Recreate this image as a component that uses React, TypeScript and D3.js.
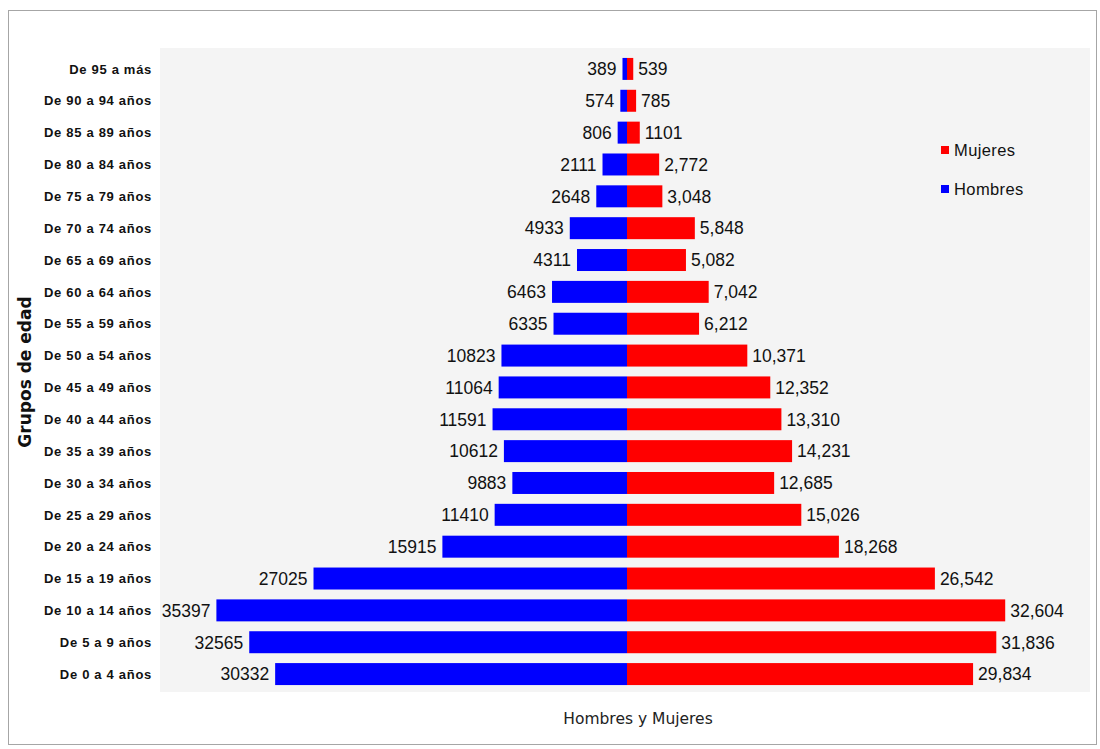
import React from "react";
import * as d3 from "d3";

const categories = [
  "De 95 a más", "De 90 a 94 años", "De 85 a 89 años", "De 80 a 84 años",
  "De 75 a 79 años", "De 70 a 74 años", "De 65 a 69 años", "De 60 a 64 años",
  "De 55 a 59 años", "De 50 a 54 años", "De 45 a 49 años", "De 40 a 44 años",
  "De 35 a 39 años", "De 30 a 34 años", "De 25 a  29 años", "De 20 a 24 años",
  "De 15 a 19 años", "De 10 a 14 años", "De 5 a 9 años", "De 0 a 4 años",
];

const hombres = [389, 574, 806, 2111, 2648, 4933, 4311, 6463, 6335, 10823, 11064, 11591, 10612, 9883, 11410, 15915, 27025, 35397, 32565, 30332];
const mujeres = [539, 785, 1101, 2772, 3048, 5848, 5082, 7042, 6212, 10371, 12352, 13310, 14231, 12685, 15026, 18268, 26542, 32604, 31836, 29834];
const mujeresLabels = ["539", "785", "1101", "2,772", "3,048", "5,848", "5,082", "7,042", "6,212", "10,371", "12,352", "13,310", "14,231", "12,685", "15,026", "18,268", "26,542", "32,604", "31,836", "29,834"];

const legendItems = [
  { name: "Mujeres", color: "#ff0000" },
  { name: "Hombres", color: "#0000ff" },
];

const W = 1100;
const H = 749;

export default function App() {
  const x = d3.scaleLinear().domain([-40000, 40000]).range([163, 1091]);
  const y = d3.scaleBand<string>().domain(categories).range([53, 690]).paddingInner(0.31).paddingOuter(0.155);
  const bw = y.bandwidth();
  const cx = x(0);
  const numFont = "'Liberation Sans', Arial, sans-serif";

  return (
    <svg width={W} height={H} style={{ position: "absolute", left: 0, top: 0, background: "#fff" }}>
      <rect x={8.5} y={10.5} width={1088} height={734} fill="#ffffff" stroke="#a6a6a6" strokeWidth={1} />
      <rect x={160} y={48} width={930} height={644} fill="#f4f4f4" />
      {categories.map((c, i) => {
        const yc = (y(c) as number) + bw / 2;
        const xl = x(-hombres[i]);
        const xr = x(mujeres[i]);
        return (
          <g key={c}>
            <rect x={xl} y={y(c)} width={cx - xl} height={bw} fill="#0000ff" />
            <rect x={cx} y={y(c)} width={xr - cx} height={bw} fill="#ff0000" />
            <text x={xl - 6} y={yc} dy="0.36em" textAnchor="end" fontFamily={numFont} fontSize={17.5} fill="#111">
              {String(hombres[i])}
            </text>
            <text x={xr + 5} y={yc} dy="0.36em" textAnchor="start" fontFamily={numFont} fontSize={17.5} fill="#111">
              {mujeresLabels[i]}
            </text>
            <text x={152} y={yc} dy="0.36em" textAnchor="end" fontFamily={numFont} fontWeight="bold" fontSize={13} letterSpacing={0.7} fill="#111">
              {c}
            </text>
          </g>
        );
      })}
      {legendItems.map((l, i) => (
        <g key={l.name}>
          <rect x={941} y={146 + i * 39} width={8} height={8} fill={l.color} />
          <text x={954} y={150 + i * 39} dy="0.36em" fontFamily={numFont} fontSize={16.5} letterSpacing={0.4} fill="#111">
            {l.name}
          </text>
        </g>
      ))}
      <text
        transform={`translate(31,372) rotate(-90)`}
        textAnchor="middle"
        fontFamily="'DejaVu Sans', Verdana, sans-serif"
        fontWeight="bold"
        fontSize={17}
        fill="#111"
      >
        Grupos de edad
      </text>
      <text x={638} y={724} textAnchor="middle" fontFamily="'DejaVu Sans', Verdana, sans-serif" fontSize={15.5} fill="#222">
        Hombres y Mujeres
      </text>
    </svg>
  );
}
